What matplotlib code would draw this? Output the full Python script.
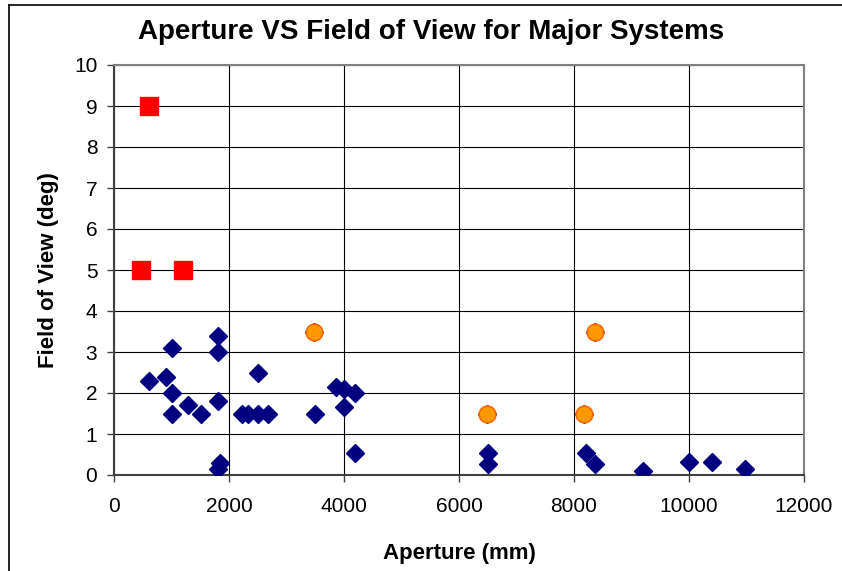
import matplotlib
matplotlib.use("Agg")
import matplotlib.pyplot as plt
from matplotlib.lines import Line2D

plt.rcParams['font.family'] = ['Liberation Sans', 'DejaVu Sans']

# all systems (navy diamonds)
aperture_all = [600, 900, 1000, 1000, 1000, 1280, 1520, 1800, 1800, 1800, 1800, 1840,
                2220, 2330, 2500, 2670, 2500, 3500, 3860, 4000, 4190, 4000, 4190,
                6500, 6500, 8200, 8370, 9200, 10000, 10400, 10970,
                470, 600, 1200, 3480, 6480, 8180, 8360]
fov_all = [2.3, 2.4, 3.1, 2.0, 1.5, 1.7, 1.5, 3.4, 3.0, 1.8, 0.15, 0.3,
           1.5, 1.5, 1.5, 1.5, 2.5, 1.5, 2.15, 2.1, 2.0, 1.65, 0.54,
           0.53, 0.28, 0.53, 0.27, 0.1, 0.32, 0.32, 0.15,
           5.0, 9.0, 5.0, 3.5, 1.5, 1.5, 3.5]

# highlighted systems (red squares)
aperture_red = [470, 600, 1200]
fov_red = [5.0, 9.0, 5.0]

# highlighted systems (orange circles)
aperture_orange = [3480, 6480, 8180, 8360]
fov_orange = [3.5, 1.5, 1.5, 3.5]

x_ticks = [0, 2000, 4000, 6000, 8000, 10000, 12000]
y_ticks = list(range(0, 11))

fig = plt.figure(figsize=(8.42, 5.71), dpi=100)
ax = fig.add_axes([114 / 842, 1 - 475 / 571, 690 / 842, 410 / 571])

ax.plot(aperture_all, fov_all, linestyle='none', marker='D', ms=9.2,
        color='#000080', mec='#000080', zorder=3)
ax.plot(aperture_red, fov_red, linestyle='none', marker='s', ms=12.5,
        color='#FF0000', mec='#FF0000', zorder=4)
ax.plot(aperture_orange, fov_orange, linestyle='none', marker='o', ms=12,
        color='#FF9900', mec='#FF6600', mew=1.2, zorder=4)

ax.set_xlim(0, 12000)
ax.set_ylim(0, 10)
ax.set_xticks(x_ticks)
ax.set_yticks(y_ticks)
ax.grid(True, color='black', linewidth=0.8)
ax.set_axisbelow(True)

for side in ['top', 'right']:
    ax.spines[side].set_color('#808080')
    ax.spines[side].set_linewidth(1.5)
for side in ['left', 'bottom']:
    ax.spines[side].set_color('#404040')
    ax.spines[side].set_linewidth(1.5)

ax.tick_params(axis='both', direction='out', length=5, width=1, color='#404040',
               labelsize=15)
ax.tick_params(axis='x', pad=11)
ax.tick_params(axis='y', pad=7)

ax.set_xlabel('Aperture (mm)', fontsize=16, fontweight='bold', labelpad=19)
ax.set_ylabel('Field of View (deg)', fontsize=16, fontweight='bold', labelpad=11)
fig.text(0.512, 1 - 32 / 571, 'Aperture VS Field of View for Major Systems',
         fontsize=20, fontweight='bold', ha='center', va='center')

# chart area border (left and top edges visible)
fig.add_artist(Line2D([8.5 / 842, 8.5 / 842], [0, 1 - 4.5 / 571], color='black',
                      lw=1.2, transform=fig.transFigure))
fig.add_artist(Line2D([8.5 / 842, 1], [1 - 4.5 / 571, 1 - 4.5 / 571], color='black',
                      lw=1.2, transform=fig.transFigure))

fig.savefig('out.png', dpi=100)
